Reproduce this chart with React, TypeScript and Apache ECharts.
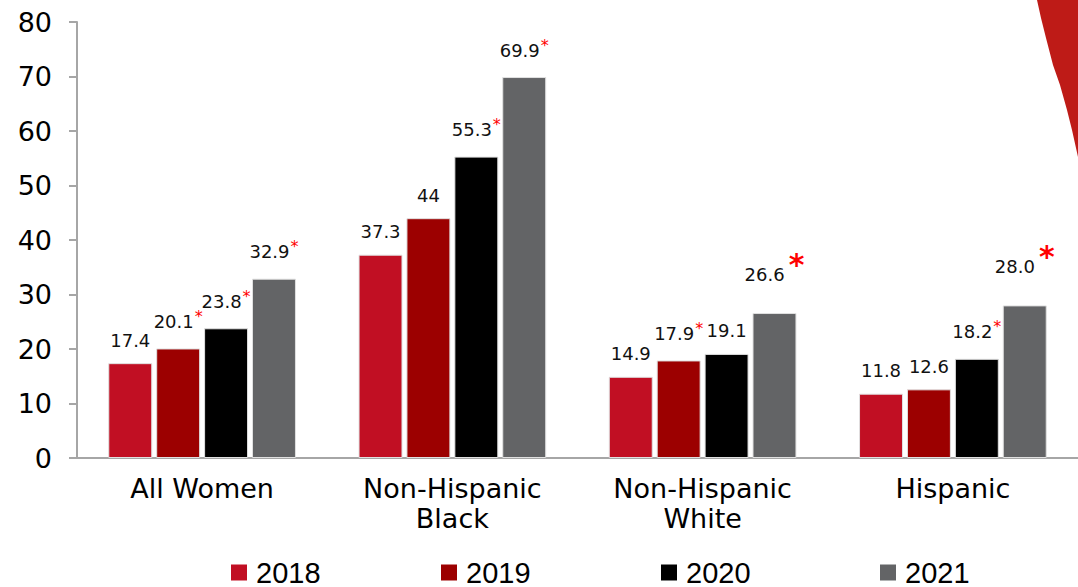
import React, { useEffect, useRef } from "react";
import * as echarts from "echarts";

const categories = ["All Women", "Non-Hispanic\nBlack", "Non-Hispanic\nWhite", "Hispanic"];
const years = ["2018", "2019", "2020", "2021"];
const colors = ["#C10F23", "#9C0000", "#000000", "#636466"];
const v2018 = [17.4, 37.3, 14.9, 11.8];
const v2019 = [20.1, 44, 17.9, 12.6];
const v2020 = [23.8, 55.3, 19.1, 18.2];
const v2021 = [32.9, 69.9, 26.6, 28.0];
const t2018 = ["17.4", "37.3", "14.9", "11.8"];
const t2019 = ["20.1", "44", "17.9", "12.6"];
const t2020 = ["23.8", "55.3", "19.1", "18.2"];
const t2021 = ["32.9", "69.9", "26.6", "28.0"];
// 0 = no asterisk, 1 = small asterisk, 2 = large asterisk
const s2018 = [0, 0, 0, 0];
const s2019 = [1, 0, 1, 0];
const s2020 = [1, 1, 0, 1];
const s2021 = [1, 1, 2, 2];
const yTicks = [0, 10, 20, 30, 40, 50, 60, 70, 80];

const values = [v2018, v2019, v2020, v2021];
const texts = [t2018, t2019, t2020, t2021];
const stars = [s2018, s2019, s2020, s2021];

export default function App() {
  const ref = useRef<HTMLDivElement>(null);
  useEffect(() => {
    if (!ref.current) return;
    const chart = echarts.init(ref.current, null, { renderer: "svg" });
    const legendLefts = [231, 441, 661, 880];
    const option: any = {
      animation: false,
      grid: { left: 77, top: 22, width: 1011, height: 436, containLabel: false },
      graphic: [
        {
          type: "polygon",
          shape: {
            points: [
              [1037, 0], [1078, 0], [1078, 157], [1072, 130], [1067, 110],
              [1060, 85], [1053, 65], [1046, 38], [1041, 18],
            ],
          },
          style: { fill: "#BE1B17" },
          z: 10,
        },
      ],
      legend: years.map((y, i) => ({
        left: legendLefts[i],
        top: 558,
        padding: 0,
        data: [y],
        itemWidth: 16,
        itemHeight: 16,
        icon: "rect",
        itemStyle: { borderWidth: 0 },
        textStyle: {
          fontFamily: "Liberation Sans",
          fontSize: 29,
          lineHeight: 29,
          color: "#000",
          padding: [0, 0, 0, 4],
        },
      })),
      xAxis: {
        type: "category",
        data: categories,
        axisLine: { show: true, lineStyle: { color: "#A6A6A6", width: 2 } },
        axisTick: { show: false },
        axisLabel: {
          fontFamily: "DejaVu Sans",
          fontSize: 27,
          color: "#000",
          lineHeight: 30,
          margin: 15,
        },
      },
      yAxis: {
        type: "value",
        min: 0,
        max: 80,
        interval: 10,
        axisLine: { show: true, lineStyle: { color: "#A6A6A6", width: 2 } },
        axisTick: { show: true, length: 8, lineStyle: { color: "#A6A6A6", width: 2 } },
        splitLine: { show: false },
        axisLabel: {
          fontFamily: "DejaVu Sans",
          fontSize: 27,
          color: "#000",
          margin: 25,
          formatter: (v: number) => (yTicks.includes(v) ? String(v) : ""),
        },
      },
      series: years.map((y, si) => ({
        name: y,
        type: "bar",
        barGap: "9%",
        barCategoryGap: "25%",
        itemStyle: { color: colors[si], borderColor: "#E0E0E0", borderWidth: 1 },
        data: values[si],
        label: {
          show: true,
          position: "top",
          distance: 14,
          formatter: (p: any) => {
            const st = stars[si][p.dataIndex];
            const t = texts[si][p.dataIndex];
            if (st === 1) return `{v|${t}}{s|*}`;
            if (st === 2) return `{v|${t}}{b|*}`;
            return `{v|${t}}`;
          },
          rich: {
            v: { fontFamily: "DejaVu Sans", fontSize: 18, color: "#111" },
            s: { fontFamily: "DejaVu Sans", fontSize: 16, color: "#FF0000", padding: [0, 0, 10, 1] },
            b: { fontFamily: "DejaVu Sans", fontSize: 30, color: "#FF0000", fontWeight: "bold", padding: [0, 0, 20, 4] },
          },
        },
      })),
    };
    chart.setOption(option);
    return () => chart.dispose();
  }, []);
  return <div ref={ref} style={{ width: 1078, height: 587, position: "absolute", left: 0, top: 0 }} />;
}
